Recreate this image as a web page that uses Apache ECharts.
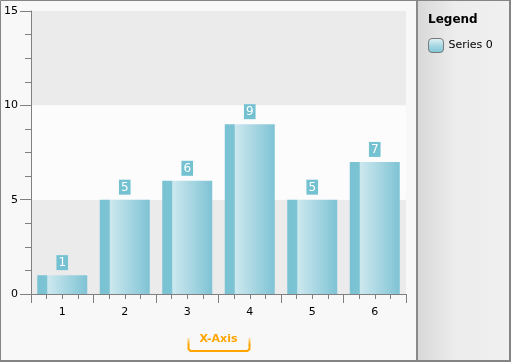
<!DOCTYPE html>
<html>
<head>
<meta charset="utf-8">
<script src="https://cdn.jsdelivr.net/npm/echarts@6/dist/echarts.min.js"></script>
<style>html,body{margin:0;padding:0;background:#f8f8f8;}#c{width:511px;height:362px;}</style>
</head>
<body>
<div id="c"></div>
<script>
var categories = ['1', '2', '3', '4', '5', '6'];
var seriesValues = [1, 5, 6, 9, 5, 7];
var seriesName = 'Series 0';
var yTicks = [0, 5, 10, 15];

var chart = echarts.init(document.getElementById('c'), null, {renderer: 'canvas'});
var barGrad = new echarts.graphic.LinearGradient(0, 0, 1, 0, [
  {offset: 0, color: '#79c2d3'},
  {offset: 0.19, color: '#7cc4d4'},
  {offset: 0.21, color: '#cde8ef'},
  {offset: 1, color: '#7ec3d4'}
]);
var font = 'DejaVu Sans, Verdana, sans-serif';
chart.setOption({
  animation: false,
  backgroundColor: '#f8f8f8',
  textStyle: {fontFamily: font},
  graphic: [
    {type: 'rect', z: -10, silent: true, shape: {x: 0.5, y: 0.5, width: 509, height: 360},
     style: {fill: 'none', stroke: '#858585', lineWidth: 1}},
    {type: 'rect', z: -10, silent: true, shape: {x: 509, y: 0, width: 2, height: 362}, style: {fill: '#858585'}},
    {type: 'rect', z: -10, silent: true, shape: {x: 0, y: 360, width: 511, height: 2}, style: {fill: '#858585'}},
    {type: 'rect', z: -10, silent: true, shape: {x: 417, y: 1, width: 92, height: 359},
     style: {fill: new echarts.graphic.LinearGradient(0, 0, 1, 0, [
       {offset: 0, color: '#d8d8d8'}, {offset: 0.4, color: '#ececec'}, {offset: 1, color: '#f0f0f0'}]),
       stroke: null}},
    {type: 'rect', z: -9, silent: true, shape: {x: 416, y: 1, width: 2, height: 359}, style: {fill: '#8a8a8a'}},
    {type: 'text', left: 428, top: 14, style: {text: 'Legend', fontSize: 12, fontWeight: 'bold', fill: '#000', fontFamily: font}},
    {type: 'polyline', silent: true, shape: {points: [[188.5, 338], [188.5, 349], [190.5, 351], [247.5, 351], [249.5, 349], [249.5, 338]]},
     style: {stroke: new echarts.graphic.LinearGradient(0, 0, 0, 1, [
       {offset: 0, color: 'rgba(255,165,0,0)'}, {offset: 0.5, color: '#ffa500'}, {offset: 1, color: '#ffa500'}]),
       lineWidth: 2, fill: 'none'}}
  ],
  legend: {
    left: 428, top: 38, orient: 'vertical', padding: 0,
    itemWidth: 15, itemHeight: 14, itemGap: 6,
    icon: 'roundRect',
    textStyle: {fontSize: 11, color: '#000', fontFamily: font},
    data: [{name: seriesName, itemStyle: {
      color: new echarts.graphic.LinearGradient(0, 0, 0, 1, [
        {offset: 0, color: '#e6f3f7'}, {offset: 0.5, color: '#a9d8e4'}, {offset: 1, color: '#7cc3d3'}]),
      borderColor: '#7a7a7a', borderWidth: 1}}]
  },
  grid: {left: 31, right: 105, top: 11, bottom: 68},
  xAxis: [
    {
      type: 'category', data: categories,
      axisLine: {show: true, lineStyle: {color: '#808080', width: 1}},
      axisTick: {show: false},
      axisLabel: {color: '#000', fontSize: 11, margin: 13, fontFamily: font},
      name: 'X-Axis', nameLocation: 'middle', nameGap: 40,
      nameTextStyle: {color: '#ffa500', fontWeight: 'bold', fontSize: 11, fontFamily: font}
    },
    {
      type: 'value', min: 0, max: categories.length, interval: 1, position: 'bottom',
      axisLine: {show: false}, axisLabel: {show: false}, splitLine: {show: false},
      axisTick: {show: true, length: 9, lineStyle: {color: '#808080'}},
      minorTick: {show: true, splitNumber: 4, length: 5, lineStyle: {color: '#808080'}}
    }
  ],
  yAxis: {
    type: 'value', min: 0, max: 15, interval: 5,
    axisLine: {show: true, lineStyle: {color: '#808080'}},
    axisTick: {show: true, length: 11, lineStyle: {color: '#808080'}},
    minorTick: {show: true, splitNumber: 4, length: 6, lineStyle: {color: '#808080'}},
    axisLabel: {color: '#000', fontSize: 11, margin: 13, fontFamily: font,
      formatter: function (v) { return yTicks.indexOf(v) >= 0 ? String(v) : ''; }},
    splitLine: {show: false},
    splitArea: {show: true, areaStyle: {color: ['#ebebeb', '#fcfcfc']}}
  },
  series: [{
    name: seriesName, type: 'bar', xAxisIndex: 0, data: seriesValues,
    barWidth: '80%',
    itemStyle: {color: barGrad},
    label: {show: true, position: 'top', distance: 5, color: '#fff', fontSize: 12,
      backgroundColor: '#74c1d2', padding: [2, 2, 1, 2], fontFamily: font}
  }]
});
</script>
</body>
</html>
